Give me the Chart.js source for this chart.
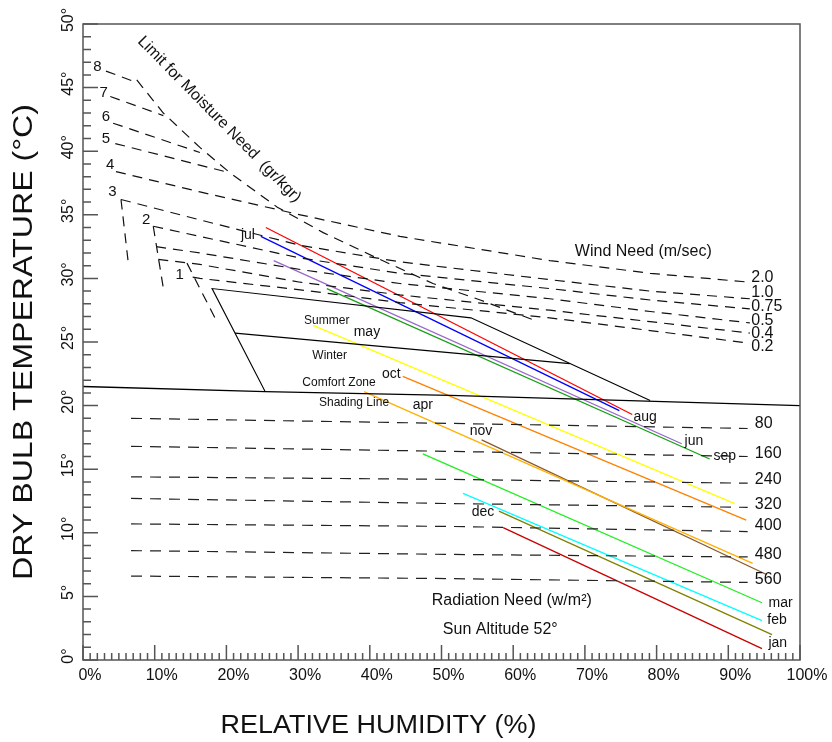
<!DOCTYPE html>
<html>
<head>
<meta charset="utf-8">
<script src="https://cdn.jsdelivr.net/npm/chart.js@4.4.0/dist/chart.umd.min.js"></script>
<style>
  html, body { margin: 0; padding: 0; background: #fff; }
  #wrap { width: 832px; height: 742px; }
</style>
</head>
<body>
<div id="wrap"><canvas id="bioChart" width="832" height="742"></canvas></div>
<script>
// monthly climate lines: (rhMin, tempMax) -> (rhMax, tempMin)
const months = ['jan', 'feb', 'mar', 'apr', 'may', 'jun', 'jul', 'aug', 'sep', 'oct', 'nov', 'dec'];
const tempMax = [10.4, 13.1, 16.2, 21.1, 26.3, 31.4, 33.3, 34.0, 29.2, 22.3, 17.3, 11.7];
const tempMin = [0.9, 3.1, 4.5, 7.6, 12.3, 17.0, 19.6, 19.3, 15.8, 11.0, 6.7, 2.0];
const rhMin = [58.6, 53.0, 47.4, 39.2, 32.1, 26.6, 24.8, 25.5, 34.0, 44.6, 55.6, 58.0];
const rhMax = [94.7, 94.7, 94.7, 93.4, 90.9, 83.5, 74.8, 76.6, 87.4, 92.5, 95.4, 96.1];
const monthColors = ['#c80000', '#00ffff', '#22ee22', '#ffb000', '#ffff00', '#9966cc',
                     '#0000ff', '#ff0000', '#16a016', '#ff8000', '#8b5a2b', '#808000'];

// radiation need (w/m²)
const radiationLevels = ['80', '160', '240', '320', '400', '480', '560'];
const radiationRh = [6.7, 51.2, 92.7];
const radiationTemp = [
  [19.0, 18.6, 18.2],
  [16.8, 16.4, 16.0],
  [14.4, 14.2, 13.9],
  [12.7, 12.3, 12.0],
  [10.7, 10.5, 10.1],
  [8.6, 8.3, 8.1],
  [6.6, 6.4, 6.1]
];

// wind need (m/sec)
const windLevels = ['2.0', '1.0', '0.75', '0.5', '0.4', '0.2'];
const windStartRh = [4.6, 5.3, 9.8, 10.2, 10.5, 15.3];
const windStartTemp = [38.4, 36.2, 34.1, 32.5, 31.5, 30.1];
const windRh = [16.3, 30.3, 44.2, 65.1, 79.1, 93.0];
const windTemp = [
  [36.8, 35.0, 33.3, 31.4, 30.4, 29.7],
  [34.6, 32.6, 31.3, 29.9, 29.0, 28.4],
  [33.3, 31.6, 30.4, 29.2, 28.3, 27.6],
  [32.0, 30.7, 29.6, 28.4, 27.4, 26.5],
  [31.1, 29.7, 28.7, 27.5, 26.6, 25.7],
  [30.0, 29.1, 28.1, 26.9, 25.9, 24.9]
];

// moisture need (gr/kgr)
const moistureLevels = ['8', '7', '6', '5', '4', '3', '2', '1'];
const moistureRh = [[3.2, 7.5], [3.8, 11.2], [4.2, 16.3], [4.5, 20.5]];
const moistureTemp = [[46.3, 45.4], [44.3, 42.8], [42.2, 39.9], [40.6, 38.3]];
const stepRh = [[5.3, 6.3], [9.8, 11.3], [14.5, 18.4]];
const stepTemp = [[36.2, 31.3], [34.1, 28.9], [31.2, 26.9]];
const limitRh = [7.5, 11.2, 16.3, 20.5, 27.1, 33.5, 41.0, 48.8, 55.4, 63.0];
const limitTemp = [45.6, 43.0, 40.3, 38.3, 35.6, 33.6, 31.6, 29.6, 28.3, 26.7];

// comfort zone and shading line
const zoneRh = [25.4, 18.0, 54.1, 79.1];
const zoneTemp = [21.1, 29.2, 26.9, 20.4];
const seasonRh = [21.2, 67.9];
const seasonTemp = [25.7, 23.3];
const shadingRh = [0, 25.4, 51.2, 100];
const shadingTemp = [21.5, 21.1, 20.8, 20.0];

// axes
const rhTicks = [0, 10, 20, 30, 40, 50, 60, 70, 80, 90, 100];
const tempTicks = [0, 5, 10, 15, 20, 25, 30, 35, 40, 45, 50];

const FONT = "'Liberation Sans', Arial, sans-serif";
const DASH = [10, 7];

function pts(xs, ys) {
  return xs.map((x, i) => ({ x: x, y: ys[i] }));
}

function lineSet(data, color, dash, width) {
  return {
    data: data,
    borderColor: color,
    borderWidth: width || 1.2,
    borderDash: dash || [],
    pointRadius: 0,
    showLine: true,
    fill: false,
    tension: 0
  };
}

const datasets = [];

radiationTemp.forEach(t => datasets.push(lineSet(pts(radiationRh, t), '#222', [11, 8])));

windTemp.forEach((t, i) => {
  const d = [{ x: windStartRh[i], y: windStartTemp[i] }].concat(pts(windRh, t));
  datasets.push(lineSet(d, '#111', DASH));
});

moistureRh.forEach((r, i) => datasets.push(lineSet(pts(r, moistureTemp[i]), '#111', DASH)));
stepRh.forEach((r, i) => datasets.push(lineSet(pts(r, stepTemp[i]), '#111', DASH)));
datasets.push(lineSet(pts(limitRh, limitTemp), '#111', DASH));

datasets.push(lineSet(pts(zoneRh, zoneTemp), '#000', [], 1.1));
datasets.push(lineSet(pts(seasonRh, seasonTemp), '#000', [], 1.1));
datasets.push(lineSet(pts(shadingRh, shadingTemp), '#000', [], 1.3));

months.forEach((m, i) => {
  datasets.push(lineSet([{ x: rhMin[i], y: tempMax[i] }, { x: rhMax[i], y: tempMin[i] }], monthColors[i], [], 1.3));
});

// where the text labels sit, in chart units (rh %, °C)
const monthLabelPos = {
  jul: [23.0, 33.4], may: [39.6, 25.8], oct: [43.0, 22.5], apr: [47.4, 20.0],
  nov: [55.5, 18.0], dec: [55.8, 11.6], aug: [78.4, 19.1], jun: [85.2, 17.2],
  sep: [89.5, 16.0], mar: [97.3, 4.5], feb: [96.8, 3.1], jan: [96.9, 1.3]
};
const moistureLabelPos = [[2.0, 46.6], [2.9, 44.6], [3.2, 42.7], [3.2, 41.0], [3.8, 38.9], [4.1, 36.8], [8.8, 34.6], [13.5, 30.3]];
const windLabelTemp = [30.1, 28.9, 27.8, 26.7, 25.7, 24.6];
const radiationLabelTemp = [18.6, 16.2, 14.2, 12.2, 10.6, 8.3, 6.3];
const zoneLabels = [
  ['Summer', 34.0, 26.7], ['Winter', 34.4, 23.9],
  ['Comfort Zone', 35.7, 21.8], ['Shading Line', 37.8, 20.2]
];

function text(ctx, str, x, y, opts) {
  ctx.save();
  ctx.font = opts.font;
  ctx.fillStyle = opts.color || '#111';
  ctx.textAlign = opts.align || 'center';
  ctx.textBaseline = 'middle';
  ctx.translate(x, y);
  if (opts.rotate) ctx.rotate(opts.rotate);
  if (opts.width) {
    const w = ctx.measureText(str).width;
    ctx.scale(opts.width / w, 1);
  }
  ctx.fillText(str, 0, 0);
  ctx.restore();
}

const decorations = {
  id: 'decorations',
  afterDraw(chart) {
    const ctx = chart.ctx;
    const xs = chart.scales.x;
    const ys = chart.scales.y;
    const area = chart.chartArea;
    const px = v => xs.getPixelForValue(v);
    const py = v => ys.getPixelForValue(v);

    // frame and inward ticks
    ctx.save();
    ctx.strokeStyle = '#555';
    ctx.lineWidth = 1.5;
    ctx.strokeRect(area.left, area.top, area.right - area.left, area.bottom - area.top);
    ctx.beginPath();
    for (let v = 0; v <= 100; v++) {
      const len = v % 10 === 0 ? 15 : 7;
      ctx.moveTo(px(v), area.bottom);
      ctx.lineTo(px(v), area.bottom - len);
    }
    for (let v = 0; v <= 50; v++) {
      const len = v % 5 === 0 ? 15 : 8;
      ctx.moveTo(area.left, py(v));
      ctx.lineTo(area.left + len, py(v));
    }
    ctx.stroke();
    ctx.restore();

    const tickFont = '16px ' + FONT;
    rhTicks.forEach(v => text(ctx, v + '%', px(v) + 7, area.bottom + 16, { font: tickFont }));
    tempTicks.forEach(v => text(ctx, v + '°', area.left - 14, py(v) - 4, { font: tickFont, rotate: -Math.PI / 2 }));

    // axis titles
    text(ctx, 'RELATIVE HUMIDITY (%)', px(41.2), area.bottom + 66, { font: '26px ' + FONT, width: 316 });
    text(ctx, 'DRY BULB TEMPERATURE (°C)', area.left - 59, (area.top + area.bottom) / 2,
      { font: '28px ' + FONT, rotate: -Math.PI / 2, width: 476 });

    // month names
    months.forEach(m => {
      const p = monthLabelPos[m];
      text(ctx, m, px(p[0]), py(p[1]), { font: '14px ' + FONT });
    });

    // moisture, wind and radiation levels
    moistureLevels.forEach((s, i) => {
      const p = moistureLabelPos[i];
      text(ctx, s, px(p[0]), py(p[1]), { font: '15px ' + FONT });
    });
    windLevels.forEach((s, i) => text(ctx, s, px(93.2), py(windLabelTemp[i]), { font: '16px ' + FONT, align: 'left' }));
    radiationLevels.forEach((s, i) => text(ctx, s, px(93.7), py(radiationLabelTemp[i]), { font: '16px ' + FONT, align: 'left' }));

    zoneLabels.forEach(z => text(ctx, z[0], px(z[1]), py(z[2]), { font: '12px ' + FONT }));

    text(ctx, 'Wind Need (m/sec)', px(68.6), py(32.1), { font: '16px ' + FONT, align: 'left' });
    text(ctx, 'Radiation Need (w/m²)', px(59.8), py(4.7), { font: '16px ' + FONT });
    text(ctx, 'Sun Altitude 52°', px(58.2), py(2.4), { font: '16px ' + FONT });
    text(ctx, 'Limit for Moisture Need  (gr/kgr)', px(19.0), py(42.5),
      { font: '16px ' + FONT, rotate: 45.5 * Math.PI / 180 });
  }
};

new Chart(document.getElementById('bioChart'), {
  type: 'scatter',
  data: { datasets: datasets },
  options: {
    responsive: false,
    animation: false,
    events: [],
    layout: { padding: { left: 83, right: 32, top: 24, bottom: 82 } },
    plugins: { legend: { display: false }, tooltip: { enabled: false } },
    scales: {
      x: { type: 'linear', min: 0, max: 100, display: false },
      y: { type: 'linear', min: 0, max: 50, display: false }
    }
  },
  plugins: [decorations]
});
</script>
</body>
</html>
